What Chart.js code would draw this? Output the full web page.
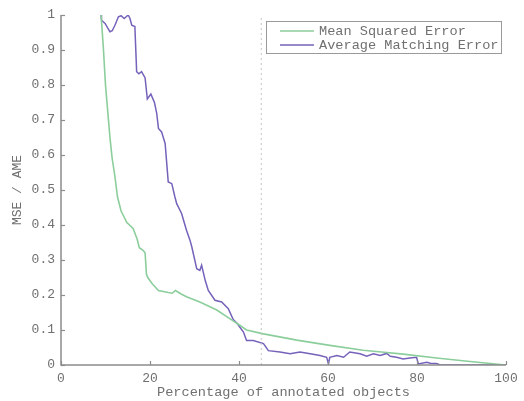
<!DOCTYPE html>
<html>
<head>
<meta charset="utf-8">
<script src="https://cdn.jsdelivr.net/npm/chart.js@4"></script>
<style>
html,body{margin:0;padding:0;background:#fff;}
#wrap{width:524px;height:401px;}
</style>
</head>
<body>
<div id="wrap"><canvas id="c" width="524" height="401"></canvas></div>
<script>
// ---- data ----
const seriesNames = ["Mean Squared Error", "Average Matching Error"];
const mseX = [9,9.5,10,10.4,11,11.5,12.1,12.7,13.5,14.8,16.2,17.1,17.6,18.5,18.9,19.2,19.5,20.5,21.9,24.1,25,25.7,27,28.2,31.2,35,38,40,41.7,45.5,53,60.4,67.9,72,76.9,84.4,91.9,100];
const mseY = [1.0,0.91,0.80,0.74,0.65,0.59,0.54,0.48,0.44,0.407,0.39,0.36,0.335,0.327,0.32,0.26,0.25,0.232,0.213,0.207,0.205,0.213,0.203,0.195,0.18,0.157,0.132,0.115,0.1,0.089,0.071,0.056,0.042,0.037,0.031,0.02,0.01,0.0];
const ameX = [9,9.1,9.9,11,11.5,12.1,12.9,13.5,14.2,15.1,15.5,15.9,16.6,17,17.5,18.1,18.9,19.4,20.2,21,21.5,21.9,22.6,23.4,24.1,24.9,25.6,26,27.1,28.2,29,29.4,30.5,31.2,31.6,32.4,33.1,34.6,36.1,37.6,38.7,39.5,40.2,41,41.7,43.2,45.5,46.6,49.2,51.5,53.7,56,58.2,59.7,60.1,60.4,62,63.5,64.9,67.2,68.7,70.2,71.7,73.2,74,75.4,76.9,78.4,79.9,80.3,82.2,83,84.4,85.2,100];
const ameY = [1.0,0.985,0.976,0.952,0.955,0.97,0.995,0.998,0.99,1.0,0.99,0.971,0.967,0.838,0.832,0.838,0.82,0.76,0.774,0.75,0.72,0.676,0.666,0.633,0.523,0.518,0.48,0.461,0.433,0.385,0.356,0.337,0.275,0.27,0.285,0.242,0.213,0.185,0.18,0.161,0.13,0.12,0.108,0.094,0.07,0.07,0.061,0.041,0.037,0.032,0.037,0.032,0.027,0.022,0.003,0.022,0.027,0.022,0.037,0.032,0.025,0.032,0.027,0.033,0.025,0.022,0.017,0.02,0.022,0.003,0.008,0.005,0.004,0.0,0.0];
const markerX = 45;
const xTicks = [0,20,40,60,80,100];
const yTicks = [0,0.1,0.2,0.3,0.4,0.5,0.6,0.7,0.8,0.9,1];
const xTitle = "Percentage of annotated objects";
const yTitle = "MSE / AME";

const GREEN = "rgb(140,206,155)";
const PURPLE = "rgb(118,98,186)";
const AXIS = "#8c8c8c";
const TEXT = "#707070";
const FONT = "'Liberation Mono', 'DejaVu Sans Mono', monospace";

const pts = (xs, ys) => xs.map((x, i) => ({x: x, y: ys[i]}));

const inwardTicks = {
  id: 'inwardTicks',
  afterDatasetsDraw(chart) {
    const ctx = chart.ctx, xs = chart.scales.x, ys = chart.scales.y, a = chart.chartArea;
    ctx.save();
    ctx.strokeStyle = AXIS; ctx.lineWidth = 1.5;
    ctx.beginPath();
    ctx.moveTo(a.left, a.top); ctx.lineTo(a.left, a.bottom); ctx.lineTo(a.right, a.bottom);
    ctx.stroke();
    ctx.lineWidth = 1.2;
    xTicks.forEach(v => { const p = Math.round(xs.getPixelForValue(v)) + 0.5; ctx.beginPath(); ctx.moveTo(p, a.bottom); ctx.lineTo(p, a.bottom - 4); ctx.stroke(); });
    yTicks.forEach(v => { const p = Math.round(ys.getPixelForValue(v)) + 0.5; ctx.beginPath(); ctx.moveTo(a.left, p); ctx.lineTo(a.left + 4, p); ctx.stroke(); });
    // legend
    const bx = 266, by = 21, bw = 235, bh = 32;
    ctx.fillStyle = '#fff'; ctx.fillRect(bx, by, bw, bh);
    ctx.strokeStyle = '#9a9a9a'; ctx.lineWidth = 1;
    ctx.strokeRect(bx + 0.5, by + 0.5, bw, bh);
    const cols = [GREEN, PURPLE];
    ctx.font = "13.6px " + FONT; ctx.textBaseline = 'middle'; ctx.textAlign = 'left';
    seriesNames.forEach((n, i) => {
      const yy = by + 10 + i * 14;
      ctx.strokeStyle = cols[i]; ctx.lineWidth = 1.5;
      ctx.beginPath(); ctx.moveTo(bx + 14, yy); ctx.lineTo(bx + 48, yy); ctx.stroke();
      ctx.fillStyle = TEXT; ctx.fillText(n, bx + 53, yy);
    });
    ctx.restore();
  }
};

new Chart(document.getElementById('c'), {
  type: 'line',
  data: {
    datasets: [
      {label: 'marker', data: [{x: markerX, y: 0}, {x: markerX, y: 1}], borderColor: '#c4c4c4', borderWidth: 1, borderDash: [2, 3], pointRadius: 0, tension: 0},
      {label: seriesNames[0], data: pts(mseX, mseY), borderColor: GREEN, borderWidth: 1.6, pointRadius: 0, tension: 0},
      {label: seriesNames[1], data: pts(ameX, ameY), borderColor: PURPLE, borderWidth: 1.5, pointRadius: 0, tension: 0}
    ]
  },
  options: {
    responsive: false, animation: false, devicePixelRatio: 1,
    layout: {padding: {top: 15, right: 18, left: 0, bottom: 0}},
    plugins: {legend: {display: false}, tooltip: {enabled: false}},
    scales: {
      x: {
        type: 'linear', min: 0, max: 100,
        afterBuildTicks: s => { s.ticks = xTicks.map(v => ({value: v})); },
        afterFit: s => { s.height = 36; },
        grid: {display: false, drawTicks: false}, border: {display: false},
        ticks: {color: TEXT, font: {family: FONT, size: 13}, padding: 6, maxRotation: 0},
        title: {display: true, text: xTitle, color: TEXT, font: {family: FONT, size: 13.6}, padding: {top: 0, bottom: 0}}
      },
      y: {
        type: 'linear', min: 0, max: 1,
        afterBuildTicks: s => { s.ticks = yTicks.map(v => ({value: v})); },
        afterFit: s => { s.width = 61; },
        grid: {display: false, drawTicks: false}, border: {display: false},
        ticks: {color: TEXT, font: {family: FONT, size: 13}, padding: 6, callback: v => String(v)},
        title: {display: true, text: yTitle, color: TEXT, font: {family: FONT, size: 13}, padding: {top: 10, bottom: 0}}
      }
    }
  },
  plugins: [inwardTicks]
});
</script>
</body>
</html>
